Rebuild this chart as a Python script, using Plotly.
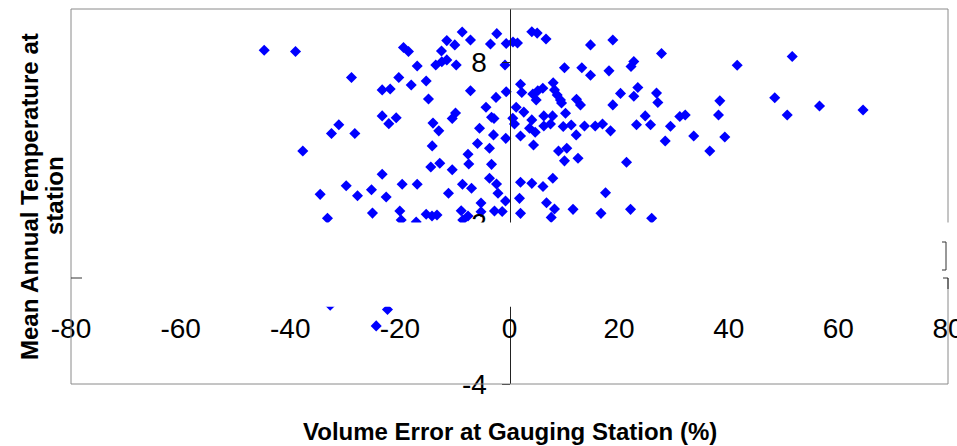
import plotly.graph_objects as go

# Volume error at gauging station (%)
volume_error = [
    -44.75, -39.04, -37.71, -34.54, -33.21, -32.48, -31.14, -29.79, -28.83, -28.22,
    -27.73, -25.18, -25.0, -23.23, -23.23, -23.23, -22.50, -22.02, -21.77, -20.67,
    -20.20, -32.71, -22.26, -24.32,
    -20.01, -19.76, -19.58, -19.34, -18.43, -17.93, -17.02, -16.84, -16.84, -15.20,
    -15.20, -14.78, -14.36, -14.10, -14.14, -13.96, -13.45, -13.23, -12.90, -12.72,
    -12.41, -12.35, -11.44, -11.44, -11.13, -10.45, -10.45, -9.98, -9.85, -9.72,
    -8.81, -8.63, -8.58, -8.52, -7.57, -7.57, -7.43, -7.12, -7.12, -6.93,
    -5.84, -5.47, -5.20, -5.20, -4.29, -3.65, -3.65, -3.47, -3.28, -3.28,
    -2.92, -2.74, -2.46, -2.32, -2.37, -2.10, -1.33, -0.82, -0.73, -0.60,
    -0.60, -0.68, -2.83,
    0.64, 1.46, 4.07, 5.05, 6.66, 14.78, 10.03, 13.19, 14.78, 2.01,
    2.24, 4.25, 4.87, 5.16, 6.08, 7.97, 8.21, 8.70, 9.30, 9.49,
    12.22, 12.95, 1.22, 2.61, 0.60, 0.91, 4.07, 3.65, 4.69, 6.26,
    7.85, 10.22, 6.26, 7.48, 9.80, 11.26, 13.68, 15.64, 12.17, 2.01,
    4.38, 8.94, 10.45, 10.03, 12.50, 2.01, 4.07, 6.11, 7.90, 1.82,
    6.75, 8.21, 2.01, 7.61, 11.59, 16.69,
    17.52, 18.15, 18.43, 18.85, 18.85, 20.25, 21.35, 22.17, 22.08, 22.68,
    22.68, 23.41, 23.17, 24.76, 25.73, 25.94, 26.82, 27.06, 27.73, 28.41,
    29.37, 31.07, 32.06, 33.61, 36.54, 38.13, 38.37, 39.28, 41.54, 48.39,
    50.67, 51.58, 56.56, 64.50, 16.97,
]

# Mean annual temperature at station
mean_temp = [
    8.46, 8.41, 4.70, 3.08, 2.19, 5.35, 5.68, 3.40, 7.44, 5.35,
    3.03, 3.25, 2.38, 6.98, 6.01, 3.83, 2.98, 5.72, 7.01, 5.94,
    7.44, -1.06, -1.22, -1.83,
    2.46, 2.12, 3.46, 8.56, 8.41, 7.16, 2.05, 7.87, 3.46, 7.31,
    2.34, 6.64, 4.10, 4.89, 2.27, 5.74, 7.91, 2.31, 5.45, 4.24,
    8.43, 8.03, 8.82, 8.10, 3.12, 5.91, 4.00, 8.66, 6.12, 7.91,
    2.47, 9.14, 3.46, 2.12, 4.58, 2.27, 4.21, 8.84, 6.95, 3.31,
    4.98, 5.55, 2.43, 2.76, 6.33, 4.80, 3.68, 8.69, 5.96, 4.20,
    5.30, 2.46, 6.70, 9.08, 3.47, 3.12, 2.44, 7.91, 2.83, 8.71,
    6.91, 5.17, 5.91,
    8.77, 8.73, 9.15, 9.10, 8.88, 8.66, 7.81, 7.81, 7.53, 7.19,
    6.88, 6.83, 6.60, 6.95, 7.04, 7.25, 6.98, 6.79, 6.60, 6.49,
    6.63, 6.42, 6.33, 6.15, 5.92, 5.71, 5.86, 5.55, 5.40, 6.01,
    6.01, 6.11, 5.63, 5.71, 5.61, 5.67, 5.63, 5.63, 5.30, 5.26,
    4.92, 4.70, 4.80, 4.33, 4.43, 3.53, 3.49, 3.37, 3.68, 2.93,
    2.77, 2.53, 2.37, 2.22, 2.52, 2.37,
    3.14, 7.69, 5.45, 8.84, 6.42, 6.85, 4.28, 7.85, 2.52, 8.04,
    6.74, 7.07, 5.68, 6.01, 5.68, 2.19, 6.86, 6.51, 8.34, 5.07,
    5.62, 5.99, 6.04, 5.26, 4.70, 6.04, 6.57, 5.22, 7.90, 6.69,
    6.04, 8.23, 6.38, 6.23, 5.71,
]

x_tick_vals = [-80, -60, -40, -20, 0, 20, 40, 60, 80]
x_tick_text = ["-80", "-60", "-40", "-20", "0", "20", "40", "60", "80"]
y_tick_vals = [-4, 2, 8]
y_tick_text = ["-4", "2", "8"]

FONT = "Liberation Sans, Arial, sans-serif"
BORDER = "#8a8a8a"

fig = go.Figure()
fig.add_trace(go.Scatter(
    x=volume_error, y=mean_temp, mode="markers",
    marker=dict(symbol="diamond", size=8.5, color="#0000FF", line=dict(width=0)),
    showlegend=False, hoverinfo="skip",
))

def pline(x0, y0, x1, y1, color=BORDER, width=1):
    return dict(type="line", xref="paper", yref="paper", x0=x0, y0=y0, x1=x1, y1=y1,
                line=dict(color=color, width=width), layer="above")

shapes = [
    # white box that hides the middle band of the chart
    dict(type="rect", xref="paper", yref="paper", x0=0.001, x1=1.002,
         y0=(384 - 306.7) / 375, y1=(384 - 222.5) / 375,
         fillcolor="white", line=dict(width=0), layer="above"),
    # plot frame
    pline(0, 0, 0, 1),
    pline(0, 1, 1, 1),
    pline(0, 0, 1, 0),
    pline(1, 1, 1, (384 - 222.5) / 375),
    pline(1, (384 - 278) / 375, 1, 0),
    # small leftover tick artifacts
    pline(0, (384 - 278) / 375, (82 - 71) / 877, (384 - 278) / 375, color="#333333"),
    pline((943 - 71) / 877, (384 - 278) / 375, 1, (384 - 278) / 375, color="#333333"),
    pline(1, (384 - 278) / 375, 1, (384 - 289) / 375, color="#222222"),
    pline((942 - 71) / 877, (384 - 242) / 375, (946 - 71) / 877, (384 - 242) / 375, color="#333333"),
    pline((946 - 71) / 877, (384 - 242) / 375, (946 - 71) / 877, (384 - 270) / 375, color="#333333"),
    pline((942 - 71) / 877, (384 - 270) / 375, (946 - 71) / 877, (384 - 270) / 375, color="#333333"),
]

fig.update_layout(
    width=957, height=446,
    margin=dict(l=71, r=9, t=9, b=62, autoexpand=False),
    paper_bgcolor="white", plot_bgcolor="white",
    font=dict(family=FONT, color="black"),
    xaxis=dict(
        range=[-80, 80], tickvals=x_tick_vals, ticktext=x_tick_text,
        anchor="free", position=4 / 14, showline=False, showgrid=False, zeroline=False,
        ticks="", ticklabelstandoff=32, ticklabeloverflow="allow",
        tickfont=dict(size=28, family=FONT, color="black"), automargin=False,
    ),
    yaxis=dict(
        range=[-4, 10], tickvals=y_tick_vals, ticktext=y_tick_text,
        anchor="free", position=0.5, side="left",
        showline=True, linecolor="#222222", linewidth=1,
        ticks="outside", ticklen=8, tickcolor="#222222", tickwidth=1,
        ticklabelstandoff=9,
        showgrid=False, zeroline=False, ticklabeloverflow="allow",
        tickfont=dict(size=28, family=FONT, color="black"), automargin=False,
    ),
    shapes=shapes,
    annotations=[
        dict(text="<b>Mean Annual Temperature at</b>", xref="paper", yref="paper",
             x=(29 - 71) / 877, y=(384 - 197) / 375, xanchor="center", yanchor="middle",
             textangle=-90, showarrow=False, font=dict(size=24, family=FONT, color="black")),
        dict(text="<b>station</b>", xref="paper", yref="paper",
             x=(54 - 71) / 877, y=(384 - 196) / 375, xanchor="center", yanchor="middle",
             textangle=-90, showarrow=False, font=dict(size=24, family=FONT, color="black")),
        dict(text="<b>Volume Error at Gauging Station (%)</b>", xref="paper", yref="paper",
             x=(510.5 - 71) / 877, y=(384 - 431.6) / 375, xanchor="center", yanchor="middle",
             showarrow=False, font=dict(size=24, family=FONT, color="black")),
    ],
)

fig.write_html("out.html")
